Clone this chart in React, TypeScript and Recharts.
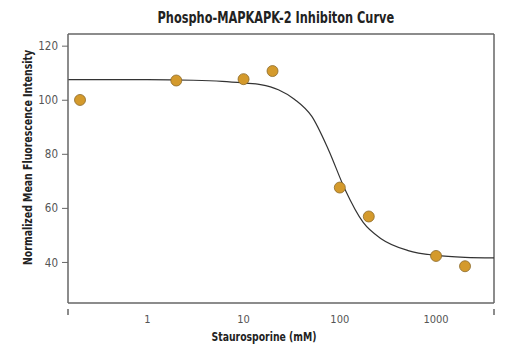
import React from 'react';
import { ComposedChart, Line, Scatter, XAxis, YAxis, ReferenceLine, Label } from 'recharts';

// measured points (Staurosporine dose vs normalized MFI)
const doses = [0.2, 2, 10, 20, 100, 200, 1000, 2000];
const intensity = [100.1, 107.3, 107.8, 110.8, 67.7, 57.0, 42.4, 38.6];

// fitted curve
const curveDoses = [0.15, 1, 3, 6, 10, 15, 23, 34, 51, 76, 113, 175, 271, 513, 1000, 2000, 4000];
const curveValues = [107.6, 107.6, 107.4, 107.0, 106.4, 105.8, 103.9, 100.3, 94.1, 81.8, 67.1, 54.8, 48.7, 44.4, 42.6, 41.9, 41.7];

const xTicks = [0.15, 1, 10, 100, 1000, 4000];
const yTicks = [40, 60, 80, 100, 120];

const points = doses.map((x, i) => ({ x, y: intensity[i] }));
const curve = curveDoses.map((x, i) => ({ x, fit: curveValues[i] }));

const FONT = '"Liberation Sans Narrow", "DejaVu Sans Condensed", Arial, sans-serif';
const AXIS = '#666';

const XTick = ({ x, y, payload }: any) => {
  const v = payload.value;
  if (v === 0.15 || v === 4000) {
    // only the two ends carry a tick mark
    return <line x1={x} y1={y - 2} x2={x} y2={y + 4} stroke={AXIS} strokeWidth={1.5} />;
  }
  return (
    <text x={x} y={y + 12} textAnchor="middle" fontSize={11} fill="#555" fontFamily={FONT}>
      {v}
    </text>
  );
};

const YLabel = ({ viewBox }: any) => {
  const cx = viewBox.x + 18;
  const cy = viewBox.y + viewBox.height / 2 - 11;
  return (
    <text x={cx} y={cy} transform={`rotate(-90 ${cx} ${cy})`} textAnchor="middle" dominantBaseline="central"
      fontSize={12} fontWeight="bold" fill="#222" fontFamily={FONT}
      textLength={215} lengthAdjust="spacingAndGlyphs">
      Normalized Mean Fluorescence Intensity
    </text>
  );
};

const XLabel = ({ viewBox }: any) => {
  const cx = viewBox.x + viewBox.width / 2 - 17;
  const cy = viewBox.y + 33;
  return (
    <text x={cx} y={cy} textAnchor="middle" dominantBaseline="central"
      fontSize={13} fontWeight="bold" fill="#222" fontFamily={FONT}
      textLength={105} lengthAdjust="spacingAndGlyphs">
      Staurosporine (mM)
    </text>
  );
};

export default function App() {
  return (
    <div style={{ position: 'absolute', left: 0, top: 0, width: 520, height: 350, background: '#fff' }}>
      <div style={{
        position: 'absolute', left: 0, top: 8, width: 552, textAlign: 'center', lineHeight: '20px',
        fontFamily: FONT, fontWeight: 'bold', fontSize: 15, color: '#222'
      }}>
        <span style={{ display: 'inline-block', transform: 'scaleX(0.84)' }}>
          Phospho-MAPKAPK-2 Inhibiton Curve
        </span>
      </div>
      <ComposedChart width={520} height={350} margin={{ top: 34, right: 26, left: 10, bottom: 0 }}>
        <XAxis
          dataKey="x"
          type="number"
          scale="log"
          domain={[0.15, 4000]}
          allowDataOverflow
          ticks={xTicks}
          tick={<XTick />}
          tickLine={false}
          axisLine={{ stroke: AXIS, strokeWidth: 1.5 }}
          height={47}
        >
          <Label content={<XLabel />} />
        </XAxis>
        <YAxis
          type="number"
          domain={[25, 124.5]}
          allowDataOverflow
          ticks={yTicks}
          width={58}
          tickSize={6}
          tickMargin={4}
          tick={{ fontSize: 11.5, fill: '#555', fontFamily: FONT }}
          tickLine={{ stroke: AXIS }}
          axisLine={{ stroke: AXIS, strokeWidth: 1.5 }}
        >
          <Label content={<YLabel />} />
        </YAxis>
        <ReferenceLine y={124.5} stroke={AXIS} strokeWidth={1.5} />
        <ReferenceLine x={4000} stroke={AXIS} strokeWidth={1.5} />
        <Line
          data={curve}
          dataKey="fit"
          type="monotone"
          stroke="#333"
          strokeWidth={1.2}
          dot={false}
          activeDot={false}
          isAnimationActive={false}
        />
        <Scatter
          data={points}
          dataKey="y"
          fill="#d49a2c"
          stroke="#8c6a2a"
          strokeWidth={0.8}
          shape={(p: any) => <circle cx={p.cx} cy={p.cy} r={5.5} fill="#d49a2c" stroke="#8c6a2a" strokeWidth={0.8} />}
          isAnimationActive={false}
        />
      </ComposedChart>
    </div>
  );
}
